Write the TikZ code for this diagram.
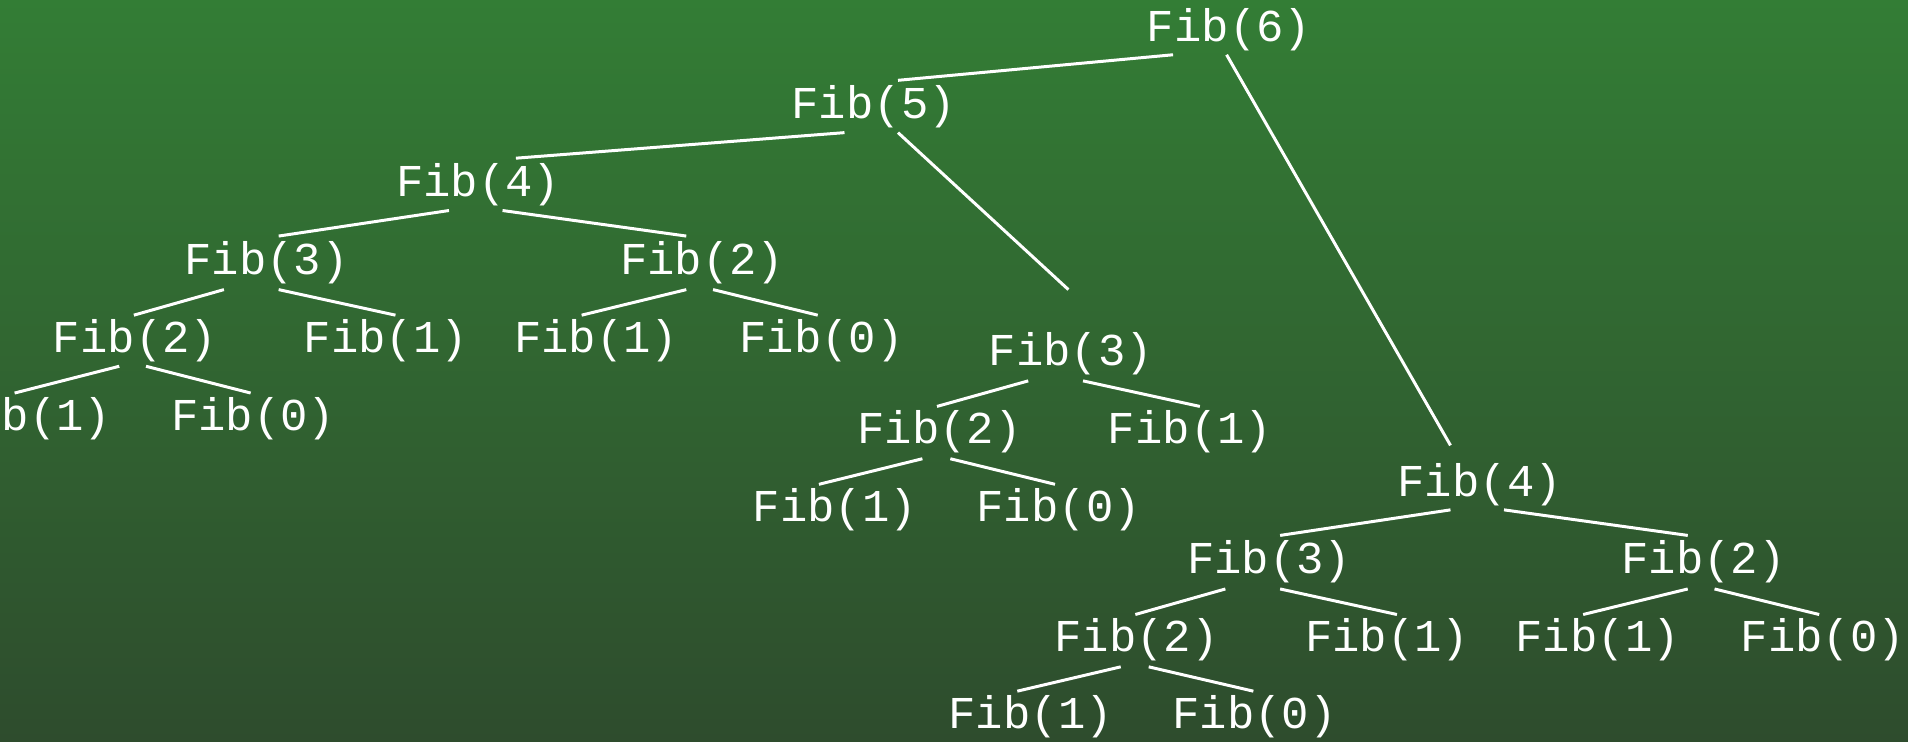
\documentclass[tikz,border=0pt]{standalone}
\usepackage{fontspec}
\setmonofont{Liberation Mono}
\usetikzlibrary{calc}
\definecolor{bgTop}{RGB}{51,125,53}
\definecolor{bgBot}{RGB}{46,76,45}

\begin{document}
\begin{tikzpicture}[x=0.6084pt, y=-0.6084pt,
          fib/.style={text=white, inner sep=0pt, text height=1.18em, text depth=0pt,
                      font=\ttfamily\fontsize{22.8}{26}\selectfont},
          e/.style={draw=white, line width=1.5pt}]
        \shade[top color=bgTop, bottom color=bgBot] (0,0) rectangle (1568,609);
        \useasboundingbox (0,0) rectangle (1568,609);
        \clip (0,0) rectangle (1568,609);
        % level 0 and 1
        \node[fib] (n)   at (1010,24)  {Fib(6)};
        \node[fib] (nL)  at (718,88)   {Fib(5)};
        \node[fib] (nR)  at (1216,398) {Fib(4)};
        % left subtree
        \node[fib] (nLL)   at (393,152) {Fib(4)};
        \node[fib] (nLR)   at (880,291) {Fib(3)};
        \node[fib] (nLLL)  at (219,216) {Fib(3)};
        \node[fib] (nLLR)  at (577,216) {Fib(2)};
        \node[fib] (nLLLL) at (111,280) {Fib(2)};
        \node[fib] (nLLLR) at (317,280) {Fib(1)};
        \node[fib] (nLLRL) at (490,280) {Fib(1)};
        \node[fib] (nLLRR) at (675,280) {Fib(0)};
        \node[fib] (nLLLLL) at (24,344) {Fib(1)};
        \node[fib] (nLLLLR) at (208,344) {Fib(0)};
        \node[fib] (nLRL)  at (772,355) {Fib(2)};
        \node[fib] (nLRR)  at (978,355) {Fib(1)};
        \node[fib] (nLRLL) at (686,419) {Fib(1)};
        \node[fib] (nLRLR) at (870,419) {Fib(0)};
        % right subtree
        \node[fib] (nRL)   at (1043,462) {Fib(3)};
        \node[fib] (nRR)   at (1400,462) {Fib(2)};
        \node[fib] (nRLL)  at (934,526)  {Fib(2)};
        \node[fib] (nRLR)  at (1140,526) {Fib(1)};
        \node[fib] (nRRL)  at (1313,526) {Fib(1)};
        \node[fib] (nRRR)  at (1498,526) {Fib(0)};
        \node[fib] (nRLLL) at (847,589)  {Fib(1)};
        \node[fib] (nRLLR) at (1031,589) {Fib(0)};
        % edges
        \draw[e] ($(n)+(-46,21)$) -- ($(nL)+(20,-22)$);
        \draw[e] ($(n)+(-2,21)$) -- ($(nR)+(-24,-32)$);
        \draw[e] ($(nL)+(-24,21)$) -- ($(nLL)+(31,-22)$);
        \draw[e] ($(nL)+(20,21)$) -- ($(nLR)+(-2,-53)$);
        \draw[e] ($(nLL)+(-24,21)$) -- ($(nLLL)+(10,-22)$);
        \draw[e] ($(nLL)+(20,21)$) -- ($(nLLR)+(-13,-22)$);
        \draw[e] ($(nLLL)+(-35,22)$) -- ($(nLLLL)+(-1,-21)$);
        \draw[e] ($(nLLL)+(10,22)$) -- ($(nLLLR)+(8,-21)$);
        \draw[e] ($(nLLR)+(-13,22)$) -- ($(nLLRL)+(-12,-21)$);
        \draw[e] ($(nLLR)+(9,22)$) -- ($(nLLRR)+(-3,-21)$);
        \draw[e] ($(nLLLL)+(-13,21)$) -- ($(nLLLLL)+(-12,-21)$);
        \draw[e] ($(nLLLL)+(9,21)$) -- ($(nLLLLR)+(-2,-21)$);
        \draw[e] ($(nLR)+(-35,22)$) -- ($(nLRL)+(-2,-21)$);
        \draw[e] ($(nLR)+(10,22)$) -- ($(nLRR)+(8,-21)$);
        \draw[e] ($(nLRL)+(-14,22)$) -- ($(nLRLL)+(-13,-21)$);
        \draw[e] ($(nLRL)+(9,22)$) -- ($(nLRLR)+(-3,-21)$);
        \draw[e] ($(nR)+(-24,21)$) -- ($(nRL)+(9,-22)$);
        \draw[e] ($(nR)+(20,21)$) -- ($(nRR)+(-13,-22)$);
        \draw[e] ($(nRL)+(-36,22)$) -- ($(nRLL)+(-1,-21)$);
        \draw[e] ($(nRL)+(9,22)$) -- ($(nRLR)+(8,-21)$);
        \draw[e] ($(nRR)+(-13,22)$) -- ($(nRRL)+(-12,-21)$);
        \draw[e] ($(nRR)+(9,22)$) -- ($(nRRR)+(-3,-21)$);
        \draw[e] ($(nRLL)+(-13,22)$) -- ($(nRLLL)+(-11,-21)$);
        \draw[e] ($(nRLL)+(10,22)$) -- ($(nRLLR)+(-1,-21)$);
      \end{tikzpicture}
\end{document}
